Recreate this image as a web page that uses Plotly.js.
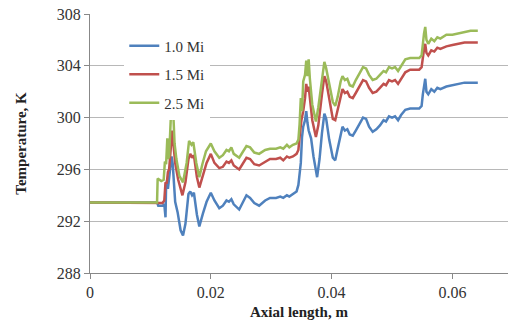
<!DOCTYPE html>
<html>
<head>
<meta charset="utf-8">
<script src="https://cdn.plot.ly/plotly-3.0.1.min.js"></script>
<style>html,body{margin:0;padding:0;background:#fff;}#chart{width:509px;height:326px;}</style>
</head>
<body>
<div id="chart"></div>
<script>
const seriesNames = ["1.0 Mi", "1.5 Mi", "2.5 Mi"];
const seriesColors = ["#4F81BD", "#C0504D", "#9BBB59"];

const x_1_0 = [0,0.0111,0.0113,0.0120,0.0123,0.0125,0.0126,0.0128,0.0129,0.0131,0.0133,0.0135,0.0137,0.0139,0.0141,0.0145,0.0150,0.0154,0.0158,0.0163,0.0166,0.0169,0.0172,0.0177,0.0181,0.0187,0.0193,0.0200,0.0206,0.0214,0.0220,0.0226,0.0230,0.0234,0.0238,0.0247,0.0253,0.0259,0.0265,0.0272,0.0280,0.0290,0.0298,0.0308,0.0315,0.0320,0.0326,0.0330,0.0336,0.0342,0.0345,0.0347,0.0349,0.0351,0.0353,0.0356,0.0358,0.0360,0.0362,0.0366,0.0370,0.0376,0.0380,0.0384,0.0388,0.0391,0.0396,0.0402,0.0406,0.0410,0.0415,0.0418,0.0422,0.0426,0.0430,0.0435,0.0440,0.0446,0.0452,0.0457,0.0462,0.0468,0.0474,0.0480,0.0486,0.0490,0.0495,0.0500,0.0505,0.0510,0.0515,0.0522,0.0530,0.0545,0.0549,0.0551,0.0553,0.0555,0.0557,0.0560,0.0565,0.0570,0.0575,0.0580,0.0590,0.0600,0.0610,0.0620,0.0630,0.0642];
const y_1_0 = [293.45,293.45,293.2,293.2,293.3,292.3,294.8,295.2,294.5,295.5,296.0,297.0,296.4,295.0,293.5,292.7,291.3,290.9,291.8,294.1,294.3,294.0,294.2,292.5,291.6,292.6,293.5,294.2,293.6,293.0,293.2,293.6,293.5,293.7,293.3,292.9,293.5,294.0,293.8,293.4,293.2,293.6,293.8,293.8,293.9,293.8,294.0,293.9,294.1,294.3,294.8,295.6,296.5,298.5,299.3,299.8,300.5,299.6,299.0,298.4,297.0,295.4,296.8,298.8,300.3,299.9,298.3,296.9,296.7,297.6,298.7,299.3,299.0,299.1,298.7,298.6,299.0,299.5,300.0,299.9,299.3,298.9,299.1,299.4,299.8,299.7,300.1,300.0,300.1,299.8,300.2,300.6,300.7,300.7,300.9,301.8,302.5,303.0,302.0,301.8,302.2,302.0,302.3,302.2,302.4,302.5,302.6,302.7,302.7,302.7];

const x_1_5 = [0,0.0111,0.0113,0.0120,0.0123,0.0125,0.0127,0.0129,0.0131,0.0134,0.0136,0.0138,0.0141,0.0146,0.0153,0.0158,0.0163,0.0166,0.0169,0.0172,0.0177,0.0181,0.0187,0.0193,0.0200,0.0206,0.0214,0.0220,0.0226,0.0230,0.0234,0.0238,0.0247,0.0253,0.0259,0.0265,0.0272,0.0280,0.0290,0.0298,0.0308,0.0315,0.0320,0.0326,0.0330,0.0336,0.0342,0.0345,0.0347,0.0350,0.0353,0.0356,0.0358,0.0360,0.0362,0.0364,0.0368,0.0374,0.0378,0.0384,0.0388,0.0391,0.0396,0.0402,0.0406,0.0410,0.0415,0.0418,0.0422,0.0426,0.0430,0.0435,0.0440,0.0446,0.0452,0.0457,0.0462,0.0468,0.0474,0.0480,0.0486,0.0490,0.0495,0.0500,0.0505,0.0510,0.0515,0.0522,0.0530,0.0545,0.0549,0.0551,0.0553,0.0555,0.0557,0.0560,0.0565,0.0570,0.0575,0.0580,0.0590,0.0600,0.0610,0.0620,0.0630,0.0642];
const y_1_5 = [293.45,293.45,293.4,293.4,293.6,295.0,294.9,295.8,296.0,298.3,299.0,298.0,296.5,295.2,294.0,295.0,296.8,297.2,296.9,297.1,295.4,294.6,295.6,296.5,297.2,296.5,296.1,296.2,296.6,296.5,296.7,296.3,296.0,296.5,296.9,296.8,296.4,296.3,296.6,296.8,296.8,296.9,296.7,297.0,296.9,297.0,297.2,297.5,298.5,299.8,300.5,301.5,302.6,302.0,302.4,301.6,299.8,298.5,299.4,301.8,303.2,302.8,301.4,299.9,299.8,300.6,301.8,302.2,301.9,302.0,301.6,301.5,301.9,302.4,302.9,302.8,302.3,301.9,302.0,302.3,302.6,302.5,302.9,302.8,302.9,302.6,303.0,303.5,303.7,303.7,303.9,304.8,305.3,305.7,305.0,304.8,305.2,305.1,305.4,305.3,305.5,305.6,305.7,305.8,305.8,305.8];

const x_2_5 = [0,0.0111,0.0112,0.0118,0.0122,0.0124,0.0126,0.0128,0.0129,0.0131,0.0134,0.0138,0.0140,0.0143,0.0148,0.0154,0.0160,0.0164,0.0168,0.0171,0.0176,0.0181,0.0186,0.0192,0.0200,0.0206,0.0214,0.0220,0.0226,0.0230,0.0234,0.0238,0.0247,0.0253,0.0259,0.0265,0.0272,0.0280,0.0290,0.0298,0.0308,0.0315,0.0320,0.0326,0.0330,0.0336,0.0342,0.0345,0.0347,0.0349,0.0351,0.0353,0.0356,0.0358,0.0360,0.0362,0.0364,0.0368,0.0374,0.0378,0.0384,0.0388,0.0391,0.0396,0.0402,0.0406,0.0410,0.0415,0.0418,0.0422,0.0426,0.0430,0.0435,0.0440,0.0446,0.0452,0.0457,0.0462,0.0468,0.0474,0.0480,0.0486,0.0490,0.0495,0.0500,0.0505,0.0510,0.0515,0.0522,0.0530,0.0545,0.0549,0.0551,0.0553,0.0555,0.0557,0.0560,0.0565,0.0570,0.0575,0.0580,0.0590,0.0600,0.0610,0.0620,0.0630,0.0642];
const y_2_5 = [293.45,293.45,295.3,295.1,295.2,296.6,296.4,298.4,296.8,297.0,300.2,300.2,298.0,296.8,295.5,295.0,296.5,298.2,297.9,298.1,296.5,295.4,296.4,297.4,298.0,297.4,296.9,297.1,297.5,297.4,297.7,297.2,296.9,297.4,297.8,297.7,297.3,297.2,297.5,297.6,297.6,297.7,297.6,297.9,297.7,297.9,298.0,298.3,299.5,301.5,300.5,302.8,303.3,304.4,303.2,304.5,303.0,301.0,299.7,300.8,303.0,304.3,303.8,302.6,301.2,300.9,301.6,302.8,303.2,302.9,303.0,302.5,302.4,302.9,303.4,303.9,303.8,303.3,302.9,303.0,303.3,303.6,303.5,303.9,303.8,303.9,303.6,304.0,304.5,304.6,304.6,304.8,305.8,306.5,307.0,306.0,305.7,306.1,305.9,306.2,306.1,306.4,306.4,306.5,306.6,306.7,306.7];

const xTickVals = [0, 0.02, 0.04, 0.06];
const xTickText = ["0", "0.02", "0.04", "0.06"];
const yTickVals = [288, 292, 296, 300, 304, 308];

const xs = [x_1_0, x_1_5, x_2_5];
const ys = [y_1_0, y_1_5, y_2_5];
const traces = seriesNames.map((n, i) => ({
  type: "scatter", mode: "lines", name: n,
  x: xs[i], y: ys[i], legendgroup: "g" + i,
  line: {color: seriesColors[i], width: 2.5}
}));

const serif = "Liberation Serif, Times New Roman, serif";
const layout = {
  width: 509, height: 326,
  margin: {l: 90, r: 1, t: 14, b: 53},
  paper_bgcolor: "#fff", plot_bgcolor: "#fff",
  font: {family: serif, size: 16, color: "#222"},
  showlegend: true,
  legend: {x: 0.082, y: 0.94, xanchor: "left", yanchor: "top", bgcolor: "#fff",
    font: {family: serif, size: 15, color: "#333"}, tracegroupgap: 6, itemwidth: 30},
  xaxis: {range: [0, 0.0692], tickvals: xTickVals, ticktext: xTickText,
    showgrid: false, zeroline: false, showline: true, linecolor: "#888", linewidth: 1,
    ticks: "outside", ticklen: 5, tickcolor: "#888",
    tickfont: {family: serif, size: 16, color: "#333"},
    title: {text: "<b>Axial length, m</b>", font: {family: serif, size: 15, color: "#222"}, standoff: 6}},
  yaxis: {range: [288, 308], tickvals: yTickVals,
    showgrid: true, gridcolor: "#b8b8b8", gridwidth: 1, zeroline: false,
    showline: true, linecolor: "#888", linewidth: 1,
    ticks: "outside", ticklen: 5, tickcolor: "#888",
    tickfont: {family: serif, size: 16, color: "#333"},
    title: {text: "<b>Temperature, K</b>", font: {family: serif, size: 15, color: "#222"}, standoff: 26}}
};
Plotly.newPlot("chart", traces, layout, {staticPlot: true, displayModeBar: false});
</script>
</body>
</html>
